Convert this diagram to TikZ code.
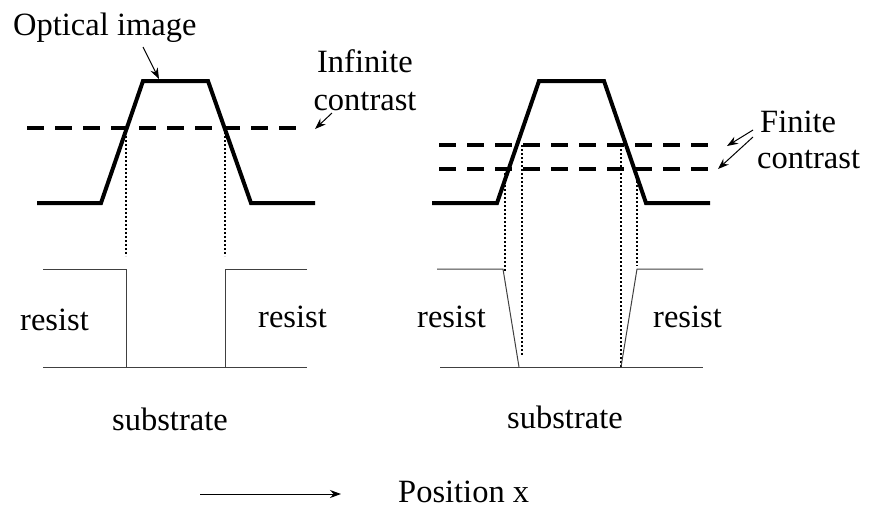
\documentclass[tikz,border=0pt]{standalone}
\usepackage{fontspec}
\setmainfont{Liberation Serif}
\usetikzlibrary{arrows.meta}
\begin{document}
\begin{tikzpicture}[x=1pt,y=-1pt,
  lbl/.style={inner sep=0pt,font=\fontsize{32.5}{38}\selectfont},
  profile/.style={line width=4pt,line join=miter},
  thresh/.style={line width=4pt,dash pattern=on 17pt off 11pt},
  guide/.style={line width=2pt,dash pattern=on 2pt off 2pt},
  wall/.style={line width=1pt,black!75},
  pointer/.style={line width=1pt,-{Stealth[length=11pt,width=8pt]}}]
\useasboundingbox (0,0) rectangle (870,507);

% ---------- left panel ----------
\draw[profile] (37,203) -- (101,203) -- (143,81) -- (208,81) -- (251,203) -- (315,203);
\draw[thresh] (27,128) -- (303,128);
\draw[guide] (126,128) -- (126,256);
\draw[guide] (225,128) -- (225,256);
\draw[wall] (43,269) -- (126,269) -- (126,367);
\draw[wall] (307,269) -- (225,269) -- (225,367);
\draw[wall] (43,367) -- (307,367);

\node[lbl,anchor=base west] (opt) at (13,35) {Optical image};
\coordinate (optS) at (143,47);
\coordinate (optE) at (159,79);
\draw[pointer] (optS) -- (optE);

\node[lbl,anchor=base,align=center] (inf) at (365,110) {Infinite\\contrast};
\coordinate (infS) at (332,113);
\coordinate (infE) at (315,129);
\draw[pointer] (infS) -- (infE);

\node[lbl,anchor=base west] (r1) at (20,330) {resist};
\node[lbl,anchor=base west] (r2) at (258,327) {resist};
\node[lbl,anchor=base west] (s1) at (112,430) {substrate};

% ---------- right panel ----------
\draw[profile] (432,203) -- (497,203) -- (539,81) -- (604,81) -- (646,203) -- (710,203);
\draw[thresh] (439,145) -- (715,145);
\draw[thresh] (439,169) -- (715,169);
\draw[guide] (505,169) -- (505,271);
\draw[guide] (522,145) -- (522,356);
\draw[guide] (621,145) -- (621,367);
\draw[guide] (637,169) -- (637,266);
\draw[wall] (437,269) -- (503,269) -- (519,367);
\draw[wall] (703,269) -- (637,269) -- (621,367);
\draw[wall] (440,367) -- (703,367);

\node[lbl,anchor=base west,align=left,font=\fontsize{32.5}{36}\selectfont] (fin) at (757,168) {\hspace*{3pt}Finite\\contrast};
\coordinate (f1S) at (753,130);
\coordinate (f1E) at (727,146);
\coordinate (f2S) at (753,137);
\coordinate (f2E) at (718,169);
\draw[pointer] (f1S) -- (f1E);
\draw[pointer] (f2S) -- (f2E);

\node[lbl,anchor=base east] (r3) at (486,327) {resist};
\node[lbl,anchor=base west] (r4) at (653,327) {resist};
\node[lbl,anchor=base west] (s2) at (507,428) {substrate};

% ---------- axis ----------
\coordinate (axS) at (200,494);
\coordinate (axE) at (341,494);
\draw[pointer] (axS) -- (axE);
\node[lbl,anchor=base west] (pos) at (398,502) {Position x};
\end{tikzpicture}
\end{document}
